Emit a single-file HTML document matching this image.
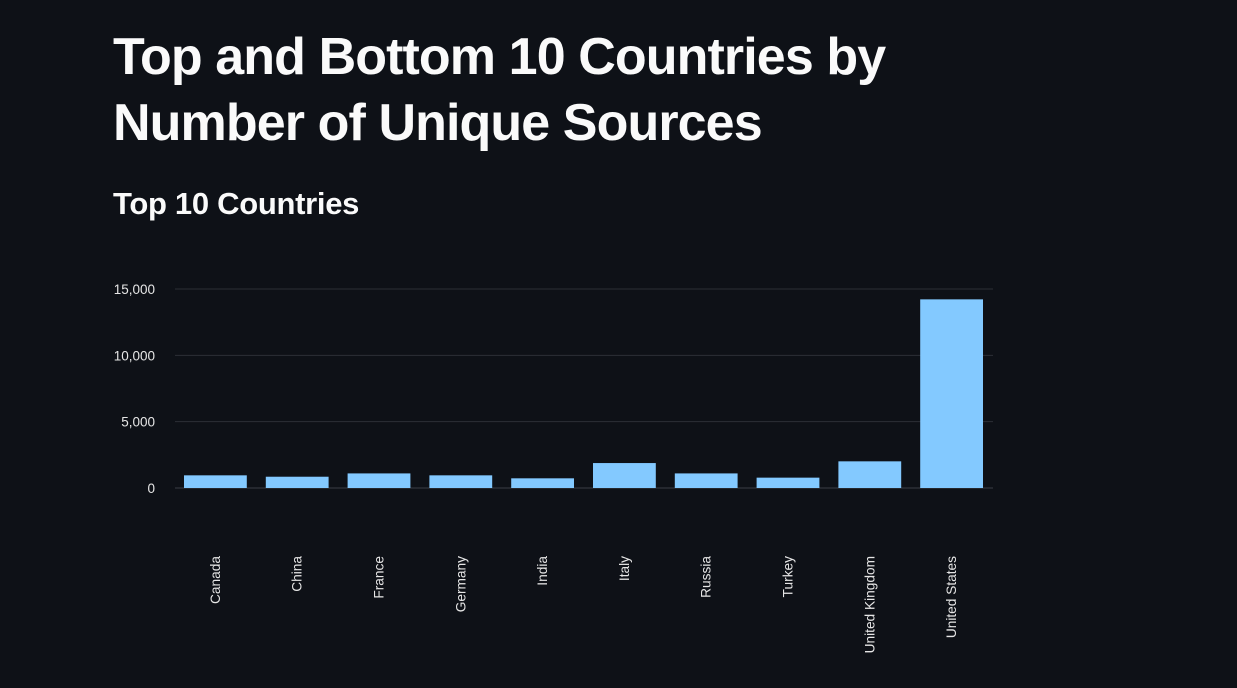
<!DOCTYPE html>
<html><head><meta charset="utf-8"><style>
html,body{margin:0;padding:0;background:#0e1117;width:1237px;height:688px;overflow:hidden}
body{font-family:"Liberation Sans",sans-serif;color:#fafafa}
h1{position:absolute;left:113px;top:24px;margin:0;font-size:52px;line-height:66px;font-weight:700;letter-spacing:-0.9px;width:850px}
h2{position:absolute;left:113px;top:186px;margin:0;font-size:31px;font-weight:700;letter-spacing:-0.3px}
svg{position:absolute;left:0;top:0}
</style></head><body>
<h1>Top and Bottom 10 Countries by Number of Unique Sources</h1>
<h2>Top 10 Countries</h2>
<svg id="chart" width="1237" height="688"></svg>
<script>
const categories=["Canada","China","France","Germany","India","Italy","Russia","Turkey","United Kingdom","United States"];
const values=[955,850,1100,955,730,1880,1100,780,2010,14220];
const ticks=[0,5000,10000,15000];
const tickLabels=["0","5,000","10,000","15,000"];
const NS="http://www.w3.org/2000/svg";
const svg=document.getElementById('chart');
const x0=175,x1=993,y0=488,yTop=289,maxV=15000;
const band=(x1-x0)/categories.length;
const y=v=>y0-(v/maxV)*(y0-yTop);
const xb=i=>x0+i*band;
function mk(t,a){const e=document.createElementNS(NS,t);for(const k in a)e.setAttribute(k,a[k]);svg.appendChild(e);return e;}
ticks.forEach((t,i)=>{
  const g=mk('line',{x1:x0,x2:x1,y1:y(t),y2:y(t),stroke:t===0?'#3a3d45':'#2c2f36','stroke-width':1});
  
  
  const l=mk('text',{x:155,y:y(t)+5,'text-anchor':'end','font-size':13.5,fill:'#e6e6e6','font-family':'Liberation Sans, sans-serif'});
  l.textContent=tickLabels[i];
  
  
});
categories.forEach((c,i)=>{
  const bx=xb(i)+9,bw=band-19;
  const r=mk('rect',{x:bx,y:y(values[i]),width:bw,height:y0-y(values[i]),fill:'#83c9ff'});
  
  
  const cx=xb(i)+band/2;
  const t=mk('text',{x:0,y:0,'text-anchor':'end','font-size':13.7,fill:'#e6e6e6','font-family':'Liberation Sans, sans-serif',transform:`translate(${cx+4},556) rotate(-90)`});
  t.textContent=c;
  
  
});
</script>
</body></html>
